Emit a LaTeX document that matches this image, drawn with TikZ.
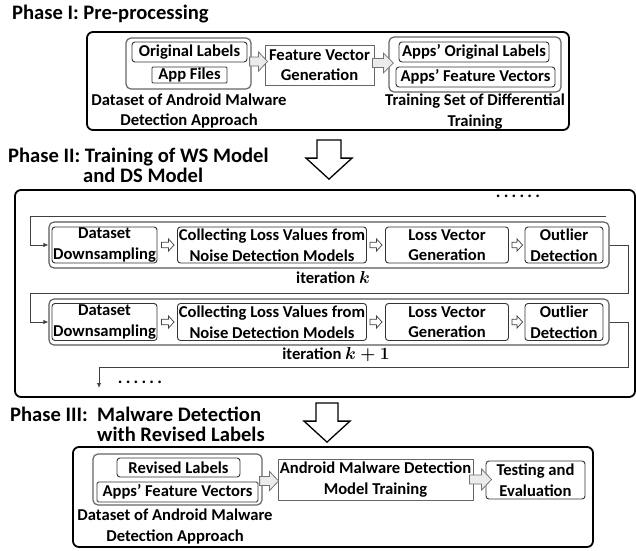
\documentclass[tikz,border=0pt]{standalone}
\usepackage{fontspec}
\setmainfont{Carlito}
\usetikzlibrary{arrows.meta,calc}
\newcommand\lblfont{\bfseries\fontsize{16.6}{20.5}\selectfont}
\newcommand\ttlfont{\bfseries\fontsize{20.6}{20}\selectfont}
\newcommand\dotfont{\bfseries\fontsize{17.5}{20}\selectfont}
\newcommand\dotsrow{.\kern3.2pt.\kern3.2pt.\kern3.2pt.\kern3.2pt.\kern3.2pt.}
% #1 style, #2 start, #3 tip, #4 shaft half, #5 head half, #6 head length
\newcommand\hblockarr[6]{\draw[#1] let \p1=#2, \p2=#3 in
  (\x1,\y1+#4) -- (\x2-#6,\y1+#4) -- (\x2-#6,\y1+#5) -- (\x2,\y1) --
  (\x2-#6,\y1-#5) -- (\x2-#6,\y1-#4) -- (\x1,\y1-#4) -- cycle;}
\newcommand\vblockarr[6]{\draw[#1] let \p1=#2, \p2=#3 in
  (\x1-#4,\y1) -- (\x1-#4,\y2+#6) -- (\x1-#5,\y2+#6) -- (\x1,\y2) --
  (\x1+#5,\y2+#6) -- (\x1+#4,\y2+#6) -- (\x1+#4,\y1) -- cycle;}
\tikzset{
 phasebox/.style={draw=black, line width=1.8pt, rounded corners=6pt, inner sep=0pt},
 groupbox/.style={draw=black!60, line width=1.2pt, rounded corners=5pt, inner sep=0pt},
 iterbox/.style={draw=black!65, line width=1.1pt, rounded corners=5pt, inner sep=0pt},
 tbox/.style={draw=black!80, line width=0.9pt, rounded corners=3pt, inner sep=0pt, align=center, font=\lblfont},
 sqbox/.style={draw=black!60, line width=0.9pt, inner sep=0pt, align=center, font=\lblfont},
 txt/.style={font=\lblfont, align=center, inner sep=0pt},
 phasetitle/.style={font=\ttlfont, align=left, inner sep=0pt, anchor=west},
 grayarrow/.style={draw=black!55, fill=black!8, line width=0.8pt},
 whitearrow/.style={draw=black!75, fill=white, line width=0.7pt},
 bigarrow/.style={draw=black, fill=white, line width=1.3pt},
 link/.style={draw=black!75, line width=0.9pt},
 linkarrow/.style={link, -{Latex[length=5pt,width=4.5pt]}},
}
\begin{document}
\begin{tikzpicture}[x=1pt,y=-1pt]
\fill[white] (0,0) rectangle (636,550);
\useasboundingbox (0,0) rectangle (636,550);

% ---------- Phase I ----------
\node[phasetitle] (t1) at (12,14) {Phase I: Pre-processing};
\node[phasebox, minimum width=482pt, minimum height=98pt] (ph1) at (328,81) {};
\node[groupbox, minimum width=125pt, minimum height=51pt] (ds1) at (188.5,63.5) {};
\node[tbox, minimum width=115pt, minimum height=20pt] (ol) at (189.5,52) {Original Labels};
\node[tbox, rounded corners=1pt, minimum width=75pt, minimum height=16pt] (af) at (189.5,75) {App Files};
\node[txt] (ds1l) at (189,111) {Dataset of Android Malware\\Detection Approach};
\node[sqbox, minimum width=109pt, minimum height=40pt] (fvg) at (319.5,65) {Feature Vector\\Generation};
\node[groupbox, minimum width=172pt, minimum height=55pt] (ts) at (475,64.5) {};
\node[tbox, minimum width=150pt, minimum height=20pt] (aol) at (474,52) {Apps’ Original Labels};
\node[tbox, minimum width=159pt, minimum height=20pt] (afv) at (475.5,77) {Apps’ Feature Vectors};
\node[txt] (tsl) at (475,111.5) {Training Set of Differential\\Training};
\hblockarr{grayarrow}{($(ds1.east)+(-2,-2)$)}{($(fvg.west|-ds1.east)+(3,-2)$)}{4.5pt}{9.5pt}{9pt}
\hblockarr{grayarrow}{($(fvg.east)+(-2,-2)$)}{($(ts.west|-fvg.east)+(5,-2)$)}{4.5pt}{10pt}{10pt}

% ---------- Phase II ----------
\node[phasetitle] (t2) at (8,165) {Phase II: Training of WS Model\\\hspace*{75pt}and DS Model};
\node[phasebox, minimum width=620pt, minimum height=207pt] (ph2) at (325,293.5) {};
\vblockarr{bigarrow}{($(ph1.south)+(1,9)$)}{($(ph1.south|-ph2.north)+(1,-10)$)}{12pt}{23pt}{21pt}
\node[txt, font=\dotfont] (dtop) at (518,196) {\dotsrow};

\node[iterbox, minimum width=560pt, minimum height=46pt] (it1) at (329,245) {};
\node[tbox, minimum width=105pt, minimum height=36pt] (dd1) at (104.5,245) {Dataset\\Downsampling};
\node[tbox, minimum width=189pt, minimum height=36pt] (cl1) at (272,245) {Collecting Loss Values from\\Noise Detection Models};
\node[tbox, minimum width=123pt, minimum height=36pt] (lv1) at (447,245) {Loss Vector\\Generation};
\node[tbox, minimum width=78pt, minimum height=36pt] (od1) at (564,245) {Outlier\\Detection};
\node[txt] (itk) at (333,278) {iteration {\boldmath$k$}};
\hblockarr{whitearrow}{($(dd1.east)+(4,0)$)}{($(cl1.west)+(-3,0)$)}{2.8pt}{6pt}{5.5pt}
\hblockarr{whitearrow}{($(cl1.east)+(3,0)$)}{($(lv1.west)+(-3,0)$)}{2.8pt}{6pt}{5.5pt}
\hblockarr{whitearrow}{($(lv1.east)+(3,0)$)}{($(od1.west)+(-2,0)$)}{2.8pt}{6pt}{5.5pt}

\node[iterbox, minimum width=560pt, minimum height=46pt] (it2) at (329,322) {};
\node[tbox, minimum width=105pt, minimum height=37pt] (dd2) at (104.5,322) {Dataset\\Downsampling};
\node[tbox, minimum width=189pt, minimum height=37pt] (cl2) at (272,322) {Collecting Loss Values from\\Noise Detection Models};
\node[tbox, minimum width=123pt, minimum height=37pt] (lv2) at (447,322) {Loss Vector\\Generation};
\node[tbox, minimum width=78pt, minimum height=37pt] (od2) at (564,322) {Outlier\\Detection};
\node[txt] (itk1) at (336,355) {iteration {\boldmath$k+1$}};
\hblockarr{whitearrow}{($(dd2.east)+(4,0)$)}{($(cl2.west)+(-3,0)$)}{2.8pt}{6pt}{5.5pt}
\hblockarr{whitearrow}{($(cl2.east)+(3,0)$)}{($(lv2.west)+(-3,0)$)}{2.8pt}{6pt}{5.5pt}
\hblockarr{whitearrow}{($(lv2.east)+(3,0)$)}{($(od2.west)+(-2,0)$)}{2.8pt}{6pt}{5.5pt}

\coordinate (c0) at (606,216);
\coordinate (lx) at (30,216);
\coordinate (rx) at (628,245);
\coordinate (m1) at (30,293);
\coordinate (m2) at (99,367);
\coordinate (c1) at (99,388);
\draw[linkarrow] (c0) -- (lx) |- (it1.west);
\draw[linkarrow] (it1.east) -- (rx) -- (rx|-m1) -- (m1) |- (it2.west);
\draw[linkarrow] (it2.east) -- (rx|-it2.east) -- (rx|-m2) -- (m2) -- (c1);
\node[txt, font=\dotfont] (dbot) at (140,382) {\dotsrow};

% ---------- Phase III ----------
\node[phasetitle] (t3) at (10,424) {Phase III:\ \ Malware Detection\\\hspace*{87pt}with Revised Labels};
\node[phasebox, minimum width=520pt, minimum height=100pt] (ph3) at (333,497) {};
\vblockarr{bigarrow}{($(ph2.south)+(2,5)$)}{($(ph2.south|-ph3.north)+(2,-4)$)}{11pt}{23pt}{21pt}
\node[groupbox, minimum width=169pt, minimum height=51pt] (ds3) at (177.5,479.5) {};
\node[tbox, minimum width=123pt, minimum height=19pt] (rl) at (178.5,467.5) {Revised Labels};
\node[tbox, rounded corners=1.5pt, minimum width=161pt, minimum height=20pt] (afv3) at (177.5,492) {Apps’ Feature Vectors};
\node[txt] (ds3l) at (175,526.5) {Dataset of Android Malware\\Detection Approach};
\node[sqbox, minimum width=195pt, minimum height=41pt] (amd) at (375.5,479.5) {Android Malware Detection\\Model Training};
\node[tbox, minimum width=99pt, minimum height=38pt] (te) at (535.5,480) {Testing and\\Evaluation};
\hblockarr{grayarrow}{($(ds3.east)+(-3,1.5)$)}{($(amd.west|-ds3.east)+(1,1.5)$)}{4.5pt}{9.5pt}{9pt}
\hblockarr{grayarrow}{($(amd.east)+(-4,0)$)}{($(te.west|-amd.east)+(6,0)$)}{4.5pt}{10.5pt}{10pt}
\end{tikzpicture}
\end{document}
